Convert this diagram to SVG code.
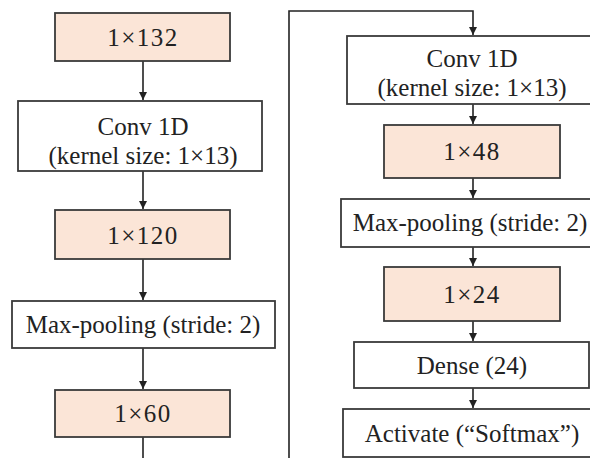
<svg xmlns="http://www.w3.org/2000/svg" width="590" height="458" viewBox="0 0 590 458">
<style>
.box{fill:#ffffff;stroke:#3a3a3a;stroke-width:1.8}
.dim{fill:#fbe5d7;stroke:#3a3a3a;stroke-width:1.8}
text{font-family:"Liberation Serif","Times New Roman",serif;font-size:25px;fill:#222;text-anchor:middle}
.d{letter-spacing:1.5px}
.conn{fill:none;stroke:#222;stroke-width:1.6}
</style>
<defs>
<marker id="ah" markerWidth="8" markerHeight="8" refX="8" refY="4" orient="auto" markerUnits="userSpaceOnUse">
<path d="M0,0 L8,4 L0,8 Z" fill="#222"/>
</marker>
</defs>
<rect width="590" height="458" fill="#ffffff"/>
<g id="connectors">
<path class="conn" d="M143,61 V100" marker-end="url(#ah)"/>
<path class="conn" d="M143,171 V209" marker-end="url(#ah)"/>
<path class="conn" d="M143,259 V300" marker-end="url(#ah)"/>
<path class="conn" d="M143,348 V389" marker-end="url(#ah)"/>
<path class="conn" d="M143,437 V475 H289 V11 H473 V35" marker-end="url(#ah)"/>
<path class="conn" d="M473,104 V124" marker-end="url(#ah)"/>
<path class="conn" d="M473,178 V198" marker-end="url(#ah)"/>
<path class="conn" d="M473,247 V266" marker-end="url(#ah)"/>
<path class="conn" d="M473,321 V341" marker-end="url(#ah)"/>
<path class="conn" d="M473,388 V408" marker-end="url(#ah)"/>
</g>
<g id="n1"><rect class="dim" x="55" y="13" width="175" height="48"/><text class="d" x="143" y="46">1×132</text></g>
<g id="n2"><rect class="box" x="18" y="101" width="244" height="70"/><text x="143" y="135">Conv 1D</text><text x="143" y="164">(kernel size: 1×13)</text></g>
<g id="n3"><rect class="dim" x="55" y="210" width="175" height="49"/><text class="d" x="143" y="244">1×120</text></g>
<g id="n4"><rect class="box" x="12" y="301" width="263" height="47"/><text x="143" y="333">Max-pooling (stride: 2)</text></g>
<g id="n5"><rect class="dim" x="55" y="390" width="175" height="47"/><text class="d" x="143" y="422">1×60</text></g>
<g id="n6"><rect class="box" x="347" y="36" width="255" height="68"/><text x="472" y="67">Conv 1D</text><text x="472" y="96">(kernel size: 1×13)</text></g>
<g id="n7"><rect class="dim" x="384" y="125" width="176" height="53"/><text class="d" x="472" y="160">1×48</text></g>
<g id="n8"><rect class="box" x="341" y="199" width="260" height="48"/><text x="470" y="231">Max-pooling (stride: 2)</text></g>
<g id="n9"><rect class="dim" x="384" y="267" width="176" height="54"/><text class="d" x="472" y="303">1×24</text></g>
<g id="n10"><rect class="box" x="354" y="342" width="235" height="46"/><text x="472" y="374">Dense (24)</text></g>
<g id="n11"><rect class="box" x="343" y="409" width="260" height="48"/><text x="472" y="442">Activate (“Softmax”)</text></g>
</svg>
